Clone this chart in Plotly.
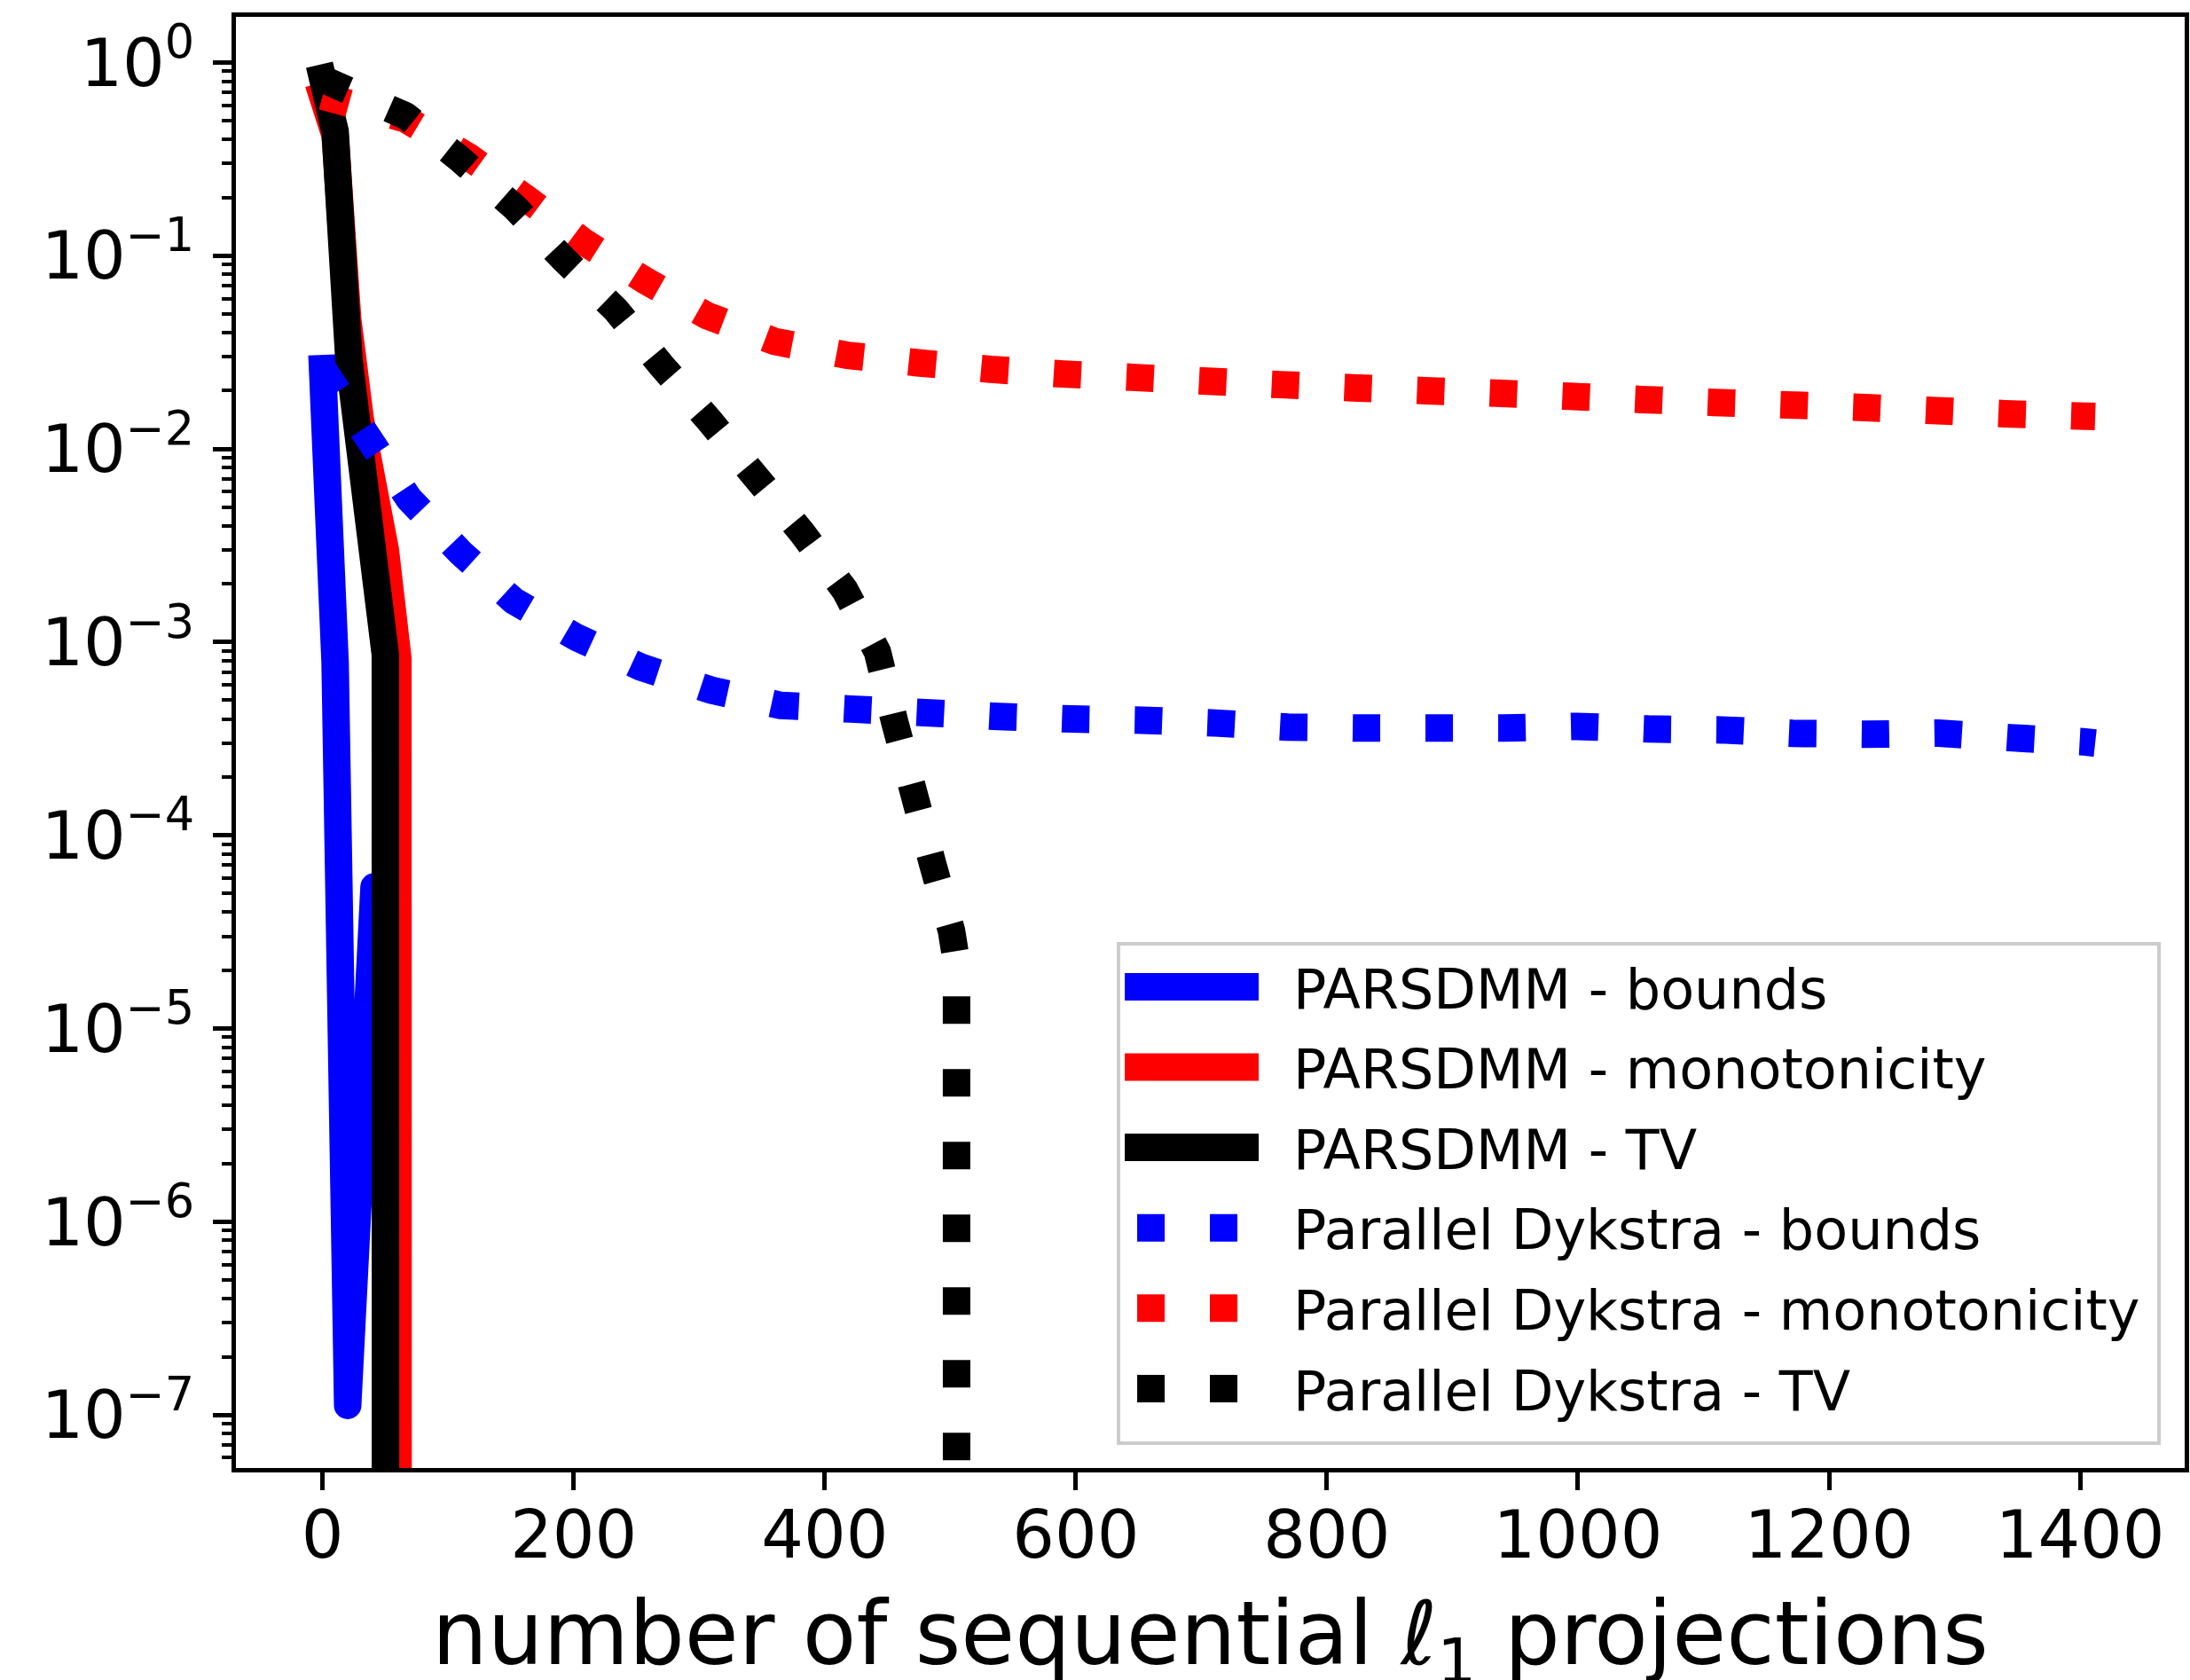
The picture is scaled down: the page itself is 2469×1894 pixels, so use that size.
import plotly.graph_objects as go

ZERO = 1e-300  # value reached zero; clipped (as matplotlib does) for the log axis

# ---------------- data ----------------
# PARSDMM (solid lines)
pars_bounds_x = [0, 10, 20, 41, 50, 60]
pars_bounds_y = [0.026, 7.8e-4, 1.12e-7, 5.4e-5, 5.5e-5, ZERO]

pars_mono_x = [0, 10, 20, 30, 50, 60, 70]
pars_mono_y = [0.67, 0.42, 0.047, 0.0143, 0.0030, 8.2e-4, ZERO]

pars_tv_x = [0, 10, 21, 50, 60]
pars_tv_y = [0.83, 0.44, 0.029, 8.6e-4, ZERO]

# Parallel Dykstra (dotted lines)
dyk_bounds_x = [0, 38, 69, 110, 152, 202, 254, 309, 365, 421, 480, 538, 596, 653,
                711, 769, 826, 884, 941, 999, 1056, 1114, 1171, 1229, 1287, 1344,
                1402, 1412]
dyk_bounds_y = [0.026, 0.011, 0.0055, 0.0029, 0.00164, 0.00106, 7.4e-4, 5.65e-4,
                4.7e-4, 4.5e-4, 4.31e-4, 4.12e-4, 4.0e-4, 3.94e-4, 3.81e-4, 3.63e-4,
                3.59e-4, 3.59e-4, 3.59e-4, 3.66e-4, 3.55e-4, 3.51e-4, 3.37e-4,
                3.33e-4, 3.38e-4, 3.20e-4, 3.05e-4, 3.0e-4]

dyk_mono_x = [0, 66, 116, 163, 208, 256, 306, 360, 418, 474, 532, 590, 648, 705,
              763, 820, 878, 935, 993, 1051, 1108, 1166, 1224, 1282, 1340, 1398, 1412]
dyk_mono_y = [0.67, 0.51, 0.326, 0.196, 0.118, 0.075, 0.049, 0.036, 0.0305, 0.0279,
              0.0258, 0.0244, 0.0234, 0.0224, 0.0215, 0.0207, 0.0200, 0.0194, 0.0187,
              0.0180, 0.0174, 0.0169, 0.0164, 0.0158, 0.0152, 0.0148, 0.0147]

dyk_tv_x = [0, 66, 109, 153, 192, 233, 270, 307, 344, 381, 416, 442, 456, 471, 486,
            501, 505, 510]
dyk_tv_y = [0.82, 0.53, 0.318, 0.178, 0.096, 0.053, 0.027, 0.0143, 0.0073, 0.00375,
            0.00186, 8.9e-4, 3.8e-4, 1.65e-4, 7.1e-5, 3.2e-5, 2.2e-5, ZERO]

series_names = ["PARSDMM - bounds", "PARSDMM - monotonicity", "PARSDMM - TV",
                "Parallel Dykstra - bounds", "Parallel Dykstra - monotonicity",
                "Parallel Dykstra - TV"]

x_title = "number of sequential <i>\u2113</i><sub>1</sub> projections"
x_tick_vals = [0, 200, 400, 600, 800, 1000, 1200, 1400]
y_tick_exps = [-7, -6, -5, -4, -3, -2, -1, 0]
y_tick_vals = [10.0 ** e for e in y_tick_exps]
y_tick_text = ["10<sup>%s</sup>" % (("\u2212%d" % -e) if e < 0 else "0") for e in y_tick_exps]
y_minor_vals = [m * 10.0 ** e for e in range(-8, 1) for m in range(2, 10)]

# ---------------- styling ----------------
LW = 31
GAP = round(1.65 * LW)
DOT = "%dpx,%dpx" % (LW, GAP)
FONT = "DejaVu Sans"

styles = [("#0000ff", "solid"), ("#ff0000", "solid"), ("#000000", "solid"),
          ("#0000ff", DOT), ("#ff0000", DOT), ("#000000", DOT)]
xs = [pars_bounds_x, pars_mono_x, pars_tv_x, dyk_bounds_x, dyk_mono_x, dyk_tv_x]
ys = [pars_bounds_y, pars_mono_y, pars_tv_y, dyk_bounds_y, dyk_mono_y, dyk_tv_y]

fig = go.Figure()
for name, x, y, (color, dash) in zip(series_names, xs, ys, styles):
    fig.add_trace(go.Scatter(
        x=x, y=y, mode="lines", name=name, legendgroup=name,
        line=dict(color=color, width=LW, dash=dash, simplify=False),
        hoverinfo="skip"))

fig.update_layout(
    width=2469, height=1894,
    margin=dict(l=266, r=6, t=19, b=239, pad=0),
    paper_bgcolor="white", plot_bgcolor="white",
    font=dict(family=FONT, color="black", size=75),
    showlegend=True,
    legend=dict(
        x=0.452, xanchor="left", y=0.3627, yanchor="top",
        bgcolor="rgba(255,255,255,0.8)", bordercolor="#cccccc", borderwidth=4,
        font=dict(family=FONT, size=62, color="black"),
        tracegroupgap=7, itemwidth=185,
    ),
    xaxis=dict(
        range=[-69.0, 1483.3], tickmode="array", tickvals=x_tick_vals,
        ticks="outside", ticklen=20, tickwidth=4.5, tickcolor="black",
        showline=True, linewidth=4.5, linecolor="black", mirror=True,
        showgrid=False, zeroline=False, automargin=False,
        tickfont=dict(family=FONT, size=75, color="black"),
        ticklabelstandoff=-14,
    ),
    yaxis=dict(
        type="log", range=[-7.275, 0.236], tickmode="array",
        tickvals=y_tick_vals, ticktext=y_tick_text,
        ticks="outside", ticklen=21, tickwidth=4.5, tickcolor="black",
        showline=True, linewidth=4.5, linecolor="black", mirror=True,
        showgrid=False, zeroline=False, automargin=False,
        tickfont=dict(family=FONT, size=75, color="black"),
        ticklabelstandoff=6,
        minor=dict(tickmode="array", tickvals=y_minor_vals, ticks="outside",
                   ticklen=11, tickwidth=3.5, tickcolor="black", showgrid=False),
    ),
    annotations=[dict(
        text=x_title, xref="paper", yref="paper", x=0.5, y=-0.0777,
        xanchor="center", yanchor="top", showarrow=False,
        font=dict(family=FONT, size=99, color="black"))],
)

# page without body margin; matplotlib-like line joins/caps and thick legend handles
post = """
var css = 'html,body{margin:0;padding:0;} ' +
  '.scatterlayer .js-line{stroke-linejoin:round;} ' +
  '.scatterlayer .trace:nth-child(-n+3) .js-line{stroke-linecap:square;} ' +
  '.legend rect.bg{width:1173px;height:563px;} ' +
  '.legend .legendlines .js-line{stroke-width:%dpx !important;} ' +
  '.legend .groups:nth-child(-n+3) .legendlines .js-line{stroke-dasharray:151px,2000px !important;} ' +
  '.legend .groups:nth-child(n+4) .legendlines .js-line{stroke-dasharray:0px,14px,%dpx,%dpx,%dpx,2000px !important;}';
var s = document.createElement('style');
s.innerHTML = css;
document.head.appendChild(s);
document.body.style.margin = '0';
""" % (LW, LW, GAP, LW)
fig.write_html("out.html", post_script=post, config={"displayModeBar": False})
